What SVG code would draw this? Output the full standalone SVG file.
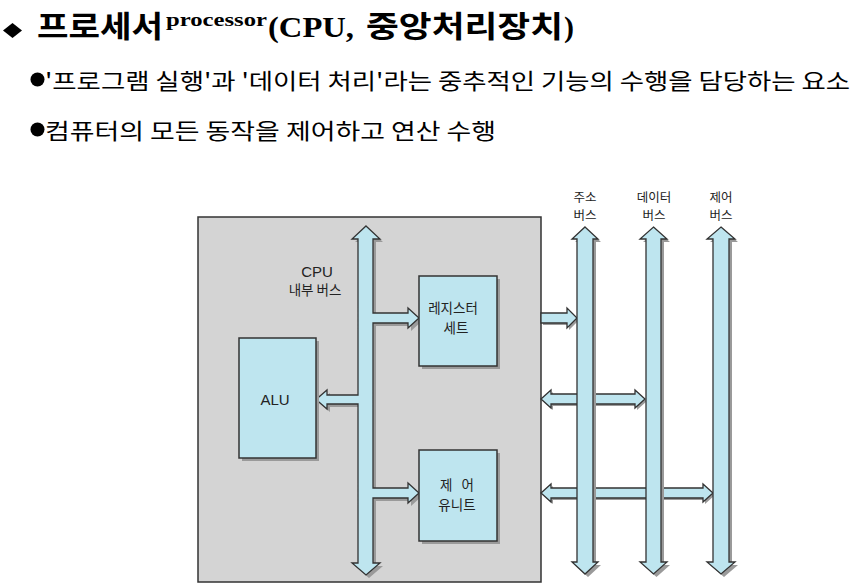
<svg xmlns="http://www.w3.org/2000/svg" xmlns:xlink="http://www.w3.org/1999/xlink" width="858" height="588" viewBox="0 0 858 588">
<style>
.kr{font-family:"Noto Sans CJK KR","Noto Sans",sans-serif;fill:#000}
.krb{font-family:"Noto Sans CJK KR","Noto Sans",sans-serif;font-weight:700;fill:#000}
.ser{font-family:"Liberation Serif",serif;font-weight:700;fill:#000}
.lbl{font-family:"Liberation Sans","Noto Sans CJK KR",sans-serif;font-size:15px;fill:#222;text-anchor:middle}
.lblk{font-family:"Noto Sans CJK KR","Liberation Sans",sans-serif;font-size:13.5px;fill:#222;text-anchor:middle}
.top{font-family:"Noto Sans CJK KR","Liberation Sans",sans-serif;font-size:12.5px;fill:#222;text-anchor:middle}
.shadow{fill:#9a9a9a;stroke:none}
.blue{fill:#bee5ef;stroke:#333;stroke-width:1.3;stroke-linejoin:miter}
.box{fill:#bee5ef;stroke:#333;stroke-width:1.5}
</style>
<defs>
<path id="ibus" d="M366,226 L380,239 L373,239 L373,313 L408,313 L408,308 L419,318 L408,328 L408,323 L373,323 L373,488 L408,488 L408,483 L419,493 L408,503 L408,498 L373,498 L373,563 L380,563 L366,575 L352,563 L358,563 L358,404 L327,404 L327,409 L316,399.5 L327,390 L327,395 L358,395 L358,239 L352,239 Z"/>
<path id="regArrow" d="M541,313 L567,313 L567,308 L577,318 L567,328 L567,323 L541,323 Z"/>
<path id="dataArrow" d="M541,399 L551,390 L551,394 L635,394 L635,390 L645,399 L635,408 L635,404 L551,404 L551,408 Z"/>
<path id="ctrlArrow" d="M541,493 L551,484 L551,488 L703,488 L703,484 L713,493 L703,502 L703,498 L551,498 L551,502 Z"/>
<path id="abus" d="M585,227 L598,239 L593,239 L593,562 L598,562 L585,574 L572,562 L577,562 L577,239 L572,239 Z"/>
<path id="dbus" d="M653.5,227 L667,239 L661,239 L661,562 L667,562 L653.5,574 L640,562 L646,562 L646,239 L640,239 Z"/>
<path id="cbus" d="M721,227 L735,239 L729,239 L729,562 L735,562 L721,574 L707,562 L713,562 L713,239 L707,239 Z"/>
</defs>

<g id="title">
<polygon points="3,30.5 12.5,23 22,30.5 12.5,38" fill="#000"/>
<text class="krb" x="37" y="37" font-size="30" textLength="126" lengthAdjust="spacingAndGlyphs">프로세서</text>
<text class="ser" x="166" y="26" font-size="19" textLength="101" lengthAdjust="spacingAndGlyphs">processor</text>
<text class="ser" x="268" y="37" font-size="30" textLength="86" lengthAdjust="spacingAndGlyphs">(CPU,</text>
<text class="krb" x="366" y="37" font-size="30" textLength="197" lengthAdjust="spacingAndGlyphs">중앙처리장치</text>
<text class="ser" x="564" y="37" font-size="30">)</text>
</g>

<g id="bullets">
<circle cx="37.5" cy="79.5" r="7" fill="#000"/>
<text class="kr" x="45" y="89" font-size="22" textLength="805" lengthAdjust="spacingAndGlyphs">'프로그램 실행'과 '데이터 처리'라는 중추적인 기능의 수행을 담당하는 요소</text>
<circle cx="37.5" cy="129.5" r="7" fill="#000"/>
<text class="kr" x="45" y="139" font-size="22" textLength="451" lengthAdjust="spacingAndGlyphs">컴퓨터의 모든 동작을 제어하고 연산 수행</text>
</g>

<g id="cpu">
<rect x="198" y="217" width="343" height="365" fill="#d4d4d4" stroke="#333" stroke-width="1.5"/>
<text class="lbl" x="317" y="277">CPU</text>
<text class="lblk" x="315" y="295" font-size="15">내부 버스</text>
</g>

<g id="connectors">
<use xlink:href="#ibus" class="shadow" transform="translate(3,3)"/>
<use xlink:href="#ibus" class="blue"/>
<use xlink:href="#regArrow" class="shadow" transform="translate(2,2)"/>
<use xlink:href="#regArrow" class="blue"/>
<use xlink:href="#dataArrow" class="shadow" transform="translate(2,2)"/>
<use xlink:href="#dataArrow" class="blue"/>
<use xlink:href="#ctrlArrow" class="shadow" transform="translate(2,2)"/>
<use xlink:href="#ctrlArrow" class="blue"/>
</g>

<g id="register-set">
<rect x="422" y="279" width="78" height="90" class="shadow"/>
<rect x="419" y="276" width="78" height="90" class="box"/>
<text class="lblk" x="453" y="313">레지스터</text>
<text class="lblk" x="456" y="333">세트</text>
</g>

<g id="alu">
<rect x="242" y="341" width="77" height="120" class="shadow"/>
<rect x="239" y="338" width="77" height="120" class="box"/>
<text class="lbl" x="275" y="405">ALU</text>
</g>

<g id="control-unit">
<rect x="422" y="453" width="78" height="91" class="shadow"/>
<rect x="419" y="450" width="78" height="91" class="box"/>
<text class="lblk" x="457" y="490" xml:space="preserve">제   어</text>
<text class="lblk" x="457" y="510">유니트</text>
</g>

<g id="address-bus">
<use xlink:href="#abus" class="shadow" transform="translate(3,3)"/>
<use xlink:href="#abus" class="blue"/>
<text class="top" x="585" y="202">주소</text>
<text class="top" x="585" y="220">버스</text>
</g>

<g id="data-bus">
<use xlink:href="#dbus" class="shadow" transform="translate(3,3)"/>
<use xlink:href="#dbus" class="blue"/>
<text class="top" x="654" y="202">데이터</text>
<text class="top" x="654" y="220">버스</text>
</g>

<g id="control-bus">
<use xlink:href="#cbus" class="shadow" transform="translate(3,3)"/>
<use xlink:href="#cbus" class="blue"/>
<text class="top" x="721" y="202">제어</text>
<text class="top" x="721" y="220">버스</text>
</g>
</svg>
